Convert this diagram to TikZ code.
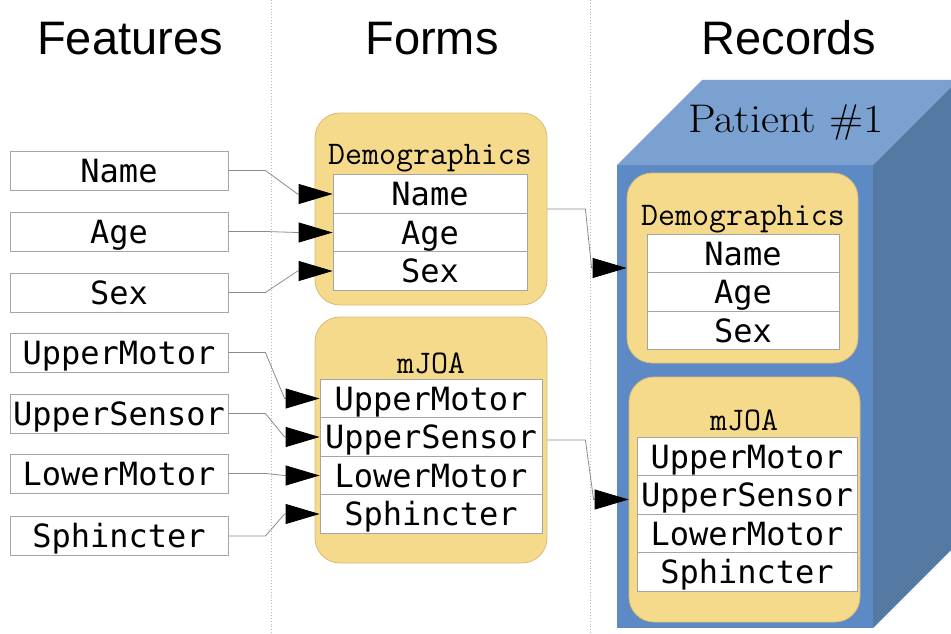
\documentclass[tikz,border=0pt]{standalone}
\usepackage{fontspec}
\usepackage{graphicx}
\usetikzlibrary{arrows.meta}
\newfontfamily\hdrfont{Liberation Sans}
\newfontfamily\rowfont{DejaVu Sans Mono}
\newcommand\hdrfs{\hdrfont\fontsize{47}{47}\selectfont}
\newcommand\monofs{\rowfont\fontsize{32}{32}\selectfont}
\newcommand\titlefs{\ttfamily\fontsize{33}{33}\selectfont}
\newcommand\patfs{\rmfamily\fontsize{40}{40}\selectfont}
\definecolor{boxfill}{RGB}{245,218,140}
\definecolor{boxedge}{RGB}{214,188,118}
\definecolor{rowgray}{RGB}{165,165,165}
\definecolor{linegray}{RGB}{140,140,140}
\definecolor{frontblue}{RGB}{93,138,196}
\definecolor{topblue}{RGB}{123,161,209}
\definecolor{sideblue}{RGB}{84,121,163}
\definecolor{dotgray}{RGB}{185,185,185}
\begin{document}
\begin{tikzpicture}[x=1pt,y=-1pt,
  feat/.style={draw=rowgray, fill=white, line width=0.8pt, minimum width=218pt, minimum height=39pt, inner sep=0pt, text height=26pt, text depth=3pt, font=\monofs},
  row/.style={draw=rowgray, fill=white, line width=0.8pt, minimum height=38.5pt, inner sep=0pt, text height=26pt, text depth=3pt, font=\monofs},
  formbox/.style={draw=boxedge, fill=boxfill, line width=0.8pt, rounded corners=25pt, inner sep=0pt},
  boxtitle/.style={font=\titlefs, anchor=base, inner sep=0pt},
  hdr/.style={font=\hdrfs, anchor=base, inner sep=0pt},
  conn/.style={draw=linegray, line width=0.8pt, -{Triangle[length=34pt,width=20pt,black]}},
  sep/.style={draw=dotgray, line width=0.9pt, dotted}
]
\path[use as bounding box] (0,0) rectangle (951,634);
\clip (0,0) rectangle (951,634);
\fill[white] (0,0) rectangle (951,634);

% separators
\coordinate (s1t) at (271,0); \coordinate (s1b) at (271,634);
\coordinate (s2t) at (590,0); \coordinate (s2b) at (590,634);
\draw[sep] (s1t) -- (s1b);
\draw[sep] (s2t) -- (s2b);

% headers
\node[hdr] (hFeat) at (130,55) {Features};
\node[hdr] (hForm) at (432,55) {Forms};
\node[hdr] (hRec) at (789,55) {Records};

% cube
\fill[frontblue] (617,165) rectangle (873,628);
\fill[topblue] (617,165) -- (702,80) -- (958,80) -- (873,165) -- cycle;
\fill[sideblue] (873,165) -- (958,80) -- (958,543) -- (873,628) -- cycle;
\node[font=\patfs, anchor=base, inner sep=0pt] (pat) at (786,132) {\scalebox{1.1}[1]{Patient \#1}};

% features
\node[feat] (fName) at (119,170.5) {Name};
\node[feat] (fAge) at (119,231.5) {Age};
\node[feat] (fSex) at (119,292.5) {Sex};
\node[feat] (fUM) at (119,352.5) {UpperMotor};
\node[feat] (fUS) at (119,413.5) {UpperSensor};
\node[feat] (fLM) at (119,473.5) {LowerMotor};
\node[feat] (fSp) at (119,536) {Sphincter};

% form: demographics
\node[formbox, minimum width=232pt, minimum height=192pt] (formDemo) at (431,209) {};
\node[boxtitle] (tDemo) at (430,164) {Demographics};
\node[row, minimum width=194pt] (dName) at (430,194) {Name};
\node[row, minimum width=194pt] (dAge) at (430,232.5) {Age};
\node[row, minimum width=194pt] (dSex) at (430,271) {Sex};

% form: mJOA
\node[formbox, minimum width=232pt, minimum height=246pt] (formJOA) at (431,440) {};
\node[boxtitle] (tJOA) at (431,373) {mJOA};
\node[row, minimum width=222pt] (mUM) at (431,398.5) {UpperMotor};
\node[row, minimum width=222pt] (mUS) at (431,437) {UpperSensor};
\node[row, minimum width=222pt] (mLM) at (431,475.5) {LowerMotor};
\node[row, minimum width=222pt] (mSp) at (431,514) {Sphincter};

% record: demographics
\node[formbox, minimum width=231pt, minimum height=190pt] (recDemo) at (742.5,268) {};
\node[boxtitle] (rtDemo) at (743,225) {Demographics};
\node[row, minimum width=192pt] (rName) at (743,253.5) {Name};
\node[row, minimum width=192pt] (rAge) at (743,292) {Age};
\node[row, minimum width=192pt] (rSex) at (743,330.5) {Sex};

% record: mJOA
\node[formbox, minimum width=231pt, minimum height=245pt] (recJOA) at (744.5,499.5) {};
\node[boxtitle] (rtJOA) at (744,430) {mJOA};
\node[row, minimum width=220pt] (rUM) at (747,456.5) {UpperMotor};
\node[row, minimum width=220pt] (rUS) at (747,495) {UpperSensor};
\node[row, minimum width=220pt] (rLM) at (747,533.5) {LowerMotor};
\node[row, minimum width=220pt] (rSp) at (747,572) {Sphincter};

% connectors features -> forms
\draw[conn] (fName.east) -- ++(37,0) -- ([xshift=-35pt]dName.west) -- (dName.west);
\draw[conn] (fAge.east) -- ++(37,0) -- ([xshift=-35pt]dAge.west) -- (dAge.west);
\draw[conn] (fSex.east) -- ++(37,0) -- ([xshift=-35pt]dSex.west) -- (dSex.west);
\draw[conn] (fUM.east) -- ++(37,0) -- ([xshift=-35pt]mUM.west) -- (mUM.west);
\draw[conn] (fUS.east) -- ++(37,0) -- ([xshift=-35pt]mUS.west) -- (mUS.west);
\draw[conn] (fLM.east) -- ++(37,0) -- ([xshift=-35pt]mLM.west) -- (mLM.west);
\draw[conn] (fSp.east) -- ++(37,0) -- ([xshift=-35pt]mSp.west) -- (mSp.west);

% connectors forms -> records
\draw[conn] (formDemo.east) -- ++(38,0) -- ([xshift=-35pt]recDemo.west) -- (recDemo.west);
\draw[conn] (formJOA.east) -- ++(38,0) -- ([xshift=-35pt]recJOA.west) -- (recJOA.west);
\end{tikzpicture}
\end{document}
